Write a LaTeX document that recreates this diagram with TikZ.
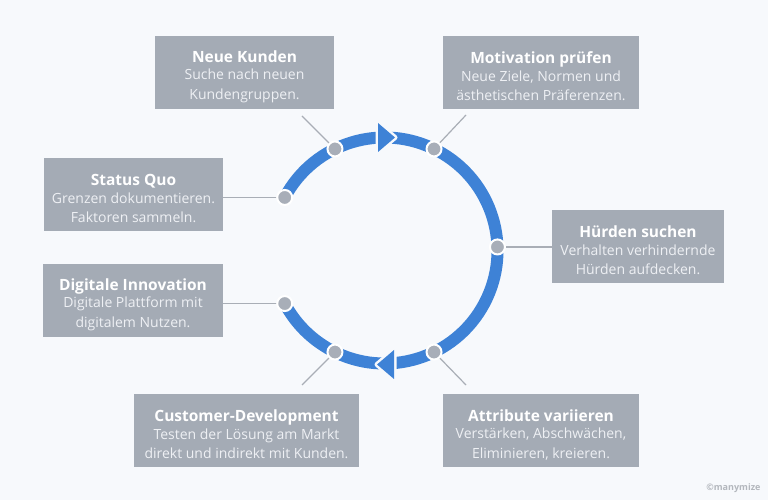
\documentclass[tikz,border=0pt]{standalone}
\usepackage{fontspec}
\setmainfont{Open Sans}
\usetikzlibrary{calc}
\definecolor{bg}{HTML}{F7F9FC}
\definecolor{boxgray}{HTML}{A4ABB5}
\definecolor{dotgray}{HTML}{A8AEB8}
\definecolor{linegray}{HTML}{A9AEB6}
\definecolor{ringblue}{HTML}{3E82D6}
\definecolor{bodytext}{HTML}{EEF0F4}
\definecolor{copygray}{HTML}{B3B7BD}
\newcommand{\ttlfont}{\rule{0pt}{20pt}\fontsize{15.5}{19.5}\selectfont\bfseries\color{white}}
\tikzset{
  infobox/.style={fill=boxgray, inner sep=0pt, minimum height=73pt, align=center,
    text=bodytext, font=\fontsize{14}{19.5}\selectfont},
  ringdot/.style={circle, fill=dotgray, draw=white, line width=2pt, minimum size=15pt, inner sep=0pt},
  leader/.style={draw=linegray, line width=1.2pt},
  ring/.style={draw=ringblue, line width=12pt},
  arrowgap/.style={draw=bg, line width=5pt, line join=round},
  arrowfill/.style={fill=ringblue}
}
\begin{document}
\begin{tikzpicture}[x=1pt,y=1pt]
\fill[bg] (0,0) rectangle (768,500);
\useasboundingbox (0,0) rectangle (768,500);
\coordinate (C) at (384.5,249.5);

% boxes
\node[infobox, minimum width=179pt] (nk) at (244.5,427.5) {{\ttlfont Neue Kunden}\\[-2pt]Suche nach neuen\\Kundengruppen.};
\node[infobox, minimum width=196pt] (mp) at (541,427.5) {{\ttlfont Motivation prüfen}\\[-2pt]Neue Ziele, Normen und\\ästhetischen Präferenzen.};
\node[infobox, minimum width=179pt] (sq) at (133.5,305.5) {{\ttlfont Status Quo}\\[-2pt]Grenzen dokumentieren.\\Faktoren sammeln.};
\node[infobox, minimum width=172pt] (hs) at (638,253.5) {{\ttlfont Hürden suchen}\\[-2pt]Verhalten verhindernde\\Hürden aufdecken.};
\node[infobox, minimum width=180pt] (di) at (133,199.5) {{\ttlfont Digitale Innovation}\\[-2pt]Digitale Plattform mit\\digitalem Nutzen.};
\node[infobox, minimum width=225pt] (cd) at (246.5,69.5) {{\ttlfont Customer-Development}\\[-2pt]Testen der Lösung am Markt\\direkt und indirekt mit Kunden.};
\node[infobox, minimum width=196pt] (av) at (541,69.5) {{\ttlfont Attribute variieren}\\[-2pt]Verstärken, Abschwächen,\\Eliminieren, kreieren.};

% dot positions
\coordinate (pnk) at ($(C)+(116:113)$);
\coordinate (pmp) at ($(C)+(64:113)$);
\coordinate (phs) at ($(C)+(1.8:113)$);
\coordinate (pav) at ($(C)+(-64:113)$);
\coordinate (pcd) at ($(C)+(244:113)$);
\coordinate (psq) at ($(C)+(152:113)$);
\coordinate (pdi) at ($(C)+(208:113)$);

% free ends of leaders
\coordinate (enk) at (302,384);
\coordinate (emp) at (466,385);
\coordinate (ecd) at (302,115);
\coordinate (eav) at (466,115);

% leaders
\draw[leader] (pnk) -- (enk);
\draw[leader] (pmp) -- (emp);
\draw[leader] (pcd) -- (ecd);
\draw[leader] (pav) -- (eav);
\draw[leader] (phs) -- (phs -| hs.west);
\draw[leader] (psq) -- (psq -| sq.east);
\draw[leader] (pdi) -- (pdi -| di.east);

% ring
\draw[ring] ($(C)+(152:113)$) arc[start angle=152, end angle=-152, radius=113];

% arrowheads
\draw[arrowgap] (378,377) -- (378,348) -- (395,362.5) -- cycle;
\fill[arrowfill] (378,377) -- (378,348) -- (395,362.5) -- cycle;
\draw[arrowgap] (394,150) -- (394,121) -- (377,135.5) -- cycle;
\fill[arrowfill] (394,150) -- (394,121) -- (377,135.5) -- cycle;

% dots
\node[ringdot] (dnk) at (pnk) {};
\node[ringdot] (dmp) at (pmp) {};
\node[ringdot] (dhs) at (phs) {};
\node[ringdot] (dav) at (pav) {};
\node[ringdot] (dcd) at (pcd) {};
\node[ringdot] (dsq) at (psq) {};
\node[ringdot] (ddi) at (pdi) {};

\node[text=copygray, font=\fontsize{9}{10}\selectfont\bfseries, anchor=east] (cp) at (764,12) {©manymize};
\end{tikzpicture}
\end{document}
